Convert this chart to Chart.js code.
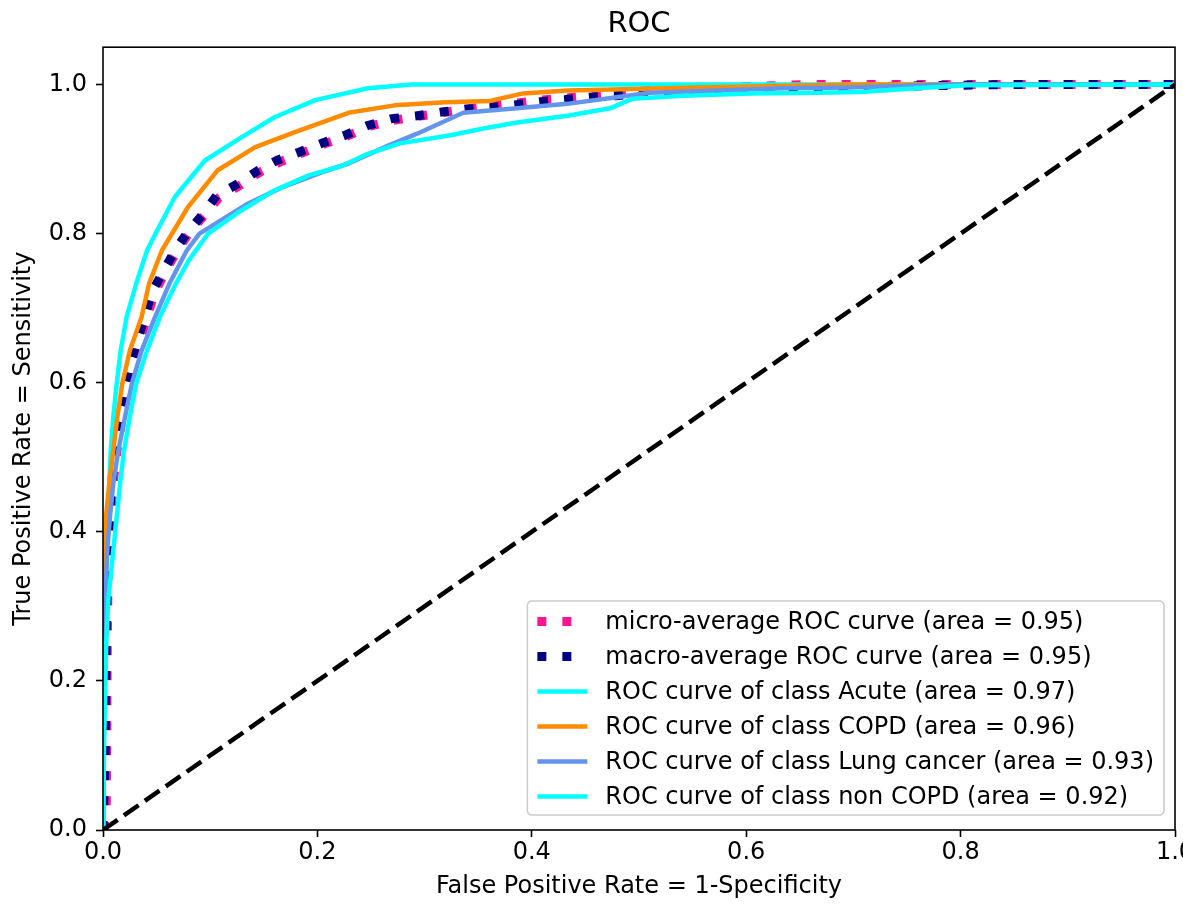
<!DOCTYPE html>
<html>
<head>
<meta charset="utf-8">
<script src="https://cdn.jsdelivr.net/npm/chart.js@4.4.1/dist/chart.umd.min.js"></script>
<style>
  html, body { margin: 0; padding: 0; background: #fff; }
  canvas { display: block; }
</style>
</head>
<body>
<canvas id="c" width="1183" height="904"></canvas>
<script>
// ---------- data ----------
const chartTitle = 'ROC';
const xAxisTitle = 'False Positive Rate = 1-Specificity';
const yAxisTitle = 'True Positive Rate = Sensitivity';
const xTickValues = [0, 0.2, 0.4, 0.6, 0.8, 1.0];
const yTickValues = [0, 0.2, 0.4, 0.6, 0.8, 1.0];

const seriesLabels = [
  'micro-average ROC curve (area = 0.95)',
  'macro-average ROC curve (area = 0.95)',
  'ROC curve of class Acute (area = 0.97)',
  'ROC curve of class COPD (area = 0.96)',
  'ROC curve of class Lung cancer (area = 0.93)',
  'ROC curve of class non COPD (area = 0.92)'
];

const microX = [0, 0.003, 0.004, 0.005, 0.007, 0.0095, 0.013, 0.018, 0.023, 0.028, 0.034, 0.041, 0.048, 0.057, 0.069, 0.08, 0.094, 0.108, 0.128, 0.147, 0.165, 0.182, 0.206, 0.228, 0.249, 0.271, 0.293, 0.316, 0.339, 0.361, 0.386, 0.408, 0.433, 0.454, 0.479, 0.502, 0.526, 0.572, 0.619, 0.66, 0.75, 1.0];
const microY = [0, 0.02, 0.25, 0.375, 0.42, 0.465, 0.509, 0.554, 0.59, 0.621, 0.653, 0.688, 0.72, 0.746, 0.777, 0.80, 0.824, 0.848, 0.865, 0.883, 0.896, 0.906, 0.92, 0.931, 0.944, 0.952, 0.957, 0.962, 0.967, 0.971, 0.975, 0.979, 0.982, 0.985, 0.988, 0.991, 0.994, 0.996, 0.998, 1.0, 1.0, 1.0];

const macroX = [0, 0.002, 0.003, 0.004, 0.006, 0.008, 0.0112, 0.016, 0.0205, 0.025, 0.031, 0.039, 0.045, 0.055, 0.067, 0.078, 0.092, 0.106, 0.126, 0.145, 0.162, 0.179, 0.204, 0.226, 0.247, 0.269, 0.293, 0.316, 0.339, 0.361, 0.386, 0.408, 0.433, 0.454, 0.479, 0.502, 0.526, 0.572, 0.619, 0.666, 0.75, 0.85, 1.0];
const macroY = [0, 0.1, 0.25, 0.375, 0.42, 0.465, 0.509, 0.554, 0.59, 0.621, 0.653, 0.688, 0.72, 0.746, 0.777, 0.80, 0.824, 0.851, 0.867, 0.885, 0.898, 0.907, 0.921, 0.932, 0.945, 0.954, 0.958, 0.963, 0.967, 0.969, 0.973, 0.977, 0.980, 0.983, 0.985, 0.988, 0.992, 0.992, 0.992, 0.994, 0.998, 1.0, 1.0];

const acuteX = [0, 0.0005, 0.0012, 0.0028, 0.004, 0.0059, 0.0072, 0.0096, 0.0128, 0.0165, 0.022, 0.031, 0.041, 0.049, 0.067, 0.095, 0.129, 0.160, 0.198, 0.247, 0.288, 1.0];
const acuteY = [0, 0.12, 0.22, 0.375, 0.42, 0.465, 0.509, 0.554, 0.599, 0.643, 0.688, 0.733, 0.777, 0.80, 0.849, 0.898, 0.929, 0.956, 0.979, 0.995, 1.0, 1.0];

const copdX = [0, 0, 0.001, 0.0028, 0.0059, 0.0096, 0.0134, 0.018, 0.025, 0.036, 0.043, 0.0548, 0.079, 0.107, 0.142, 0.179, 0.229, 0.272, 0.319, 0.361, 0.392, 0.433, 0.557, 0.697, 0.79, 1.0];
const copdY = [0, 0.36, 0.375, 0.42, 0.465, 0.509, 0.554, 0.599, 0.643, 0.688, 0.733, 0.777, 0.835, 0.885, 0.916, 0.936, 0.962, 0.972, 0.976, 0.978, 0.988, 0.992, 0.996, 1.0, 1.0, 1.0];

const lungX = [0, 0.001, 0.002, 0.004, 0.0065, 0.0096, 0.0143, 0.0205, 0.027, 0.036, 0.0485, 0.062, 0.078, 0.09, 0.135, 0.167, 0.204, 0.229, 0.266, 0.293, 0.336, 0.386, 0.433, 0.479, 0.510, 0.573, 0.635, 0.697, 0.79, 1.0];
const lungY = [0, 0.15, 0.3, 0.375, 0.42, 0.465, 0.509, 0.554, 0.599, 0.643, 0.688, 0.733, 0.777, 0.80, 0.840, 0.862, 0.882, 0.894, 0.918, 0.934, 0.962, 0.968, 0.974, 0.983, 0.989, 0.992, 0.995, 0.996, 1.0, 1.0];

const nonCopdX = [0, 0.001, 0.003, 0.005, 0.0096, 0.0128, 0.016, 0.0196, 0.025, 0.031, 0.041, 0.053, 0.068, 0.08, 0.098, 0.129, 0.160, 0.192, 0.223, 0.247, 0.277, 0.324, 0.355, 0.386, 0.433, 0.473, 0.494, 0.541, 0.604, 0.666, 0.706, 0.759, 0.806, 1.0];
const nonCopdY = [0, 0.12, 0.25, 0.31, 0.375, 0.42, 0.465, 0.509, 0.554, 0.599, 0.643, 0.688, 0.733, 0.764, 0.80, 0.831, 0.858, 0.878, 0.891, 0.907, 0.921, 0.932, 0.941, 0.949, 0.958, 0.968, 0.981, 0.985, 0.988, 0.989, 0.99, 0.995, 0.999, 1.0];

const chanceX = [0, 1];
const chanceY = [0, 1];

// ---------- build ----------
const FONT = 'DejaVu Sans';
const pts = (xs, ys) => xs.map((x, i) => ({ x: x, y: ys[i] }));
const DOT = [9, 16];
const DASH = [17.8, 7.7];

function lineDs(label, xs, ys, color, width, dash, order) {
  return {
    label: label,
    data: pts(xs, ys),
    showLine: true,
    borderColor: color,
    backgroundColor: color,
    borderWidth: width,
    borderDash: dash || [],
    borderCapStyle: 'butt',
    borderJoinStyle: 'round',
    pointRadius: 0,
    pointHoverRadius: 0,
    tension: 0,
    fill: false,
    clip: 0,
    order: order
  };
}

const datasets = [
  lineDs(seriesLabels[0], microX, microY, '#ff1493', 9, DOT, 6),
  lineDs(seriesLabels[1], macroX, macroY, '#000080', 9, DOT, 5),
  lineDs(seriesLabels[2], acuteX, acuteY, '#00ffff', 4.5, null, 4),
  lineDs(seriesLabels[3], copdX, copdY, '#ff8c00', 4.5, null, 3),
  lineDs(seriesLabels[4], lungX, lungY, '#6495ed', 4.5, null, 2),
  lineDs(seriesLabels[5], nonCopdX, nonCopdY, '#00ffff', 4.5, null, 1),
  Object.assign(lineDs('', chanceX, chanceY, '#000000', 4.5, DASH, 0), { inLegend: false })
];

const framePlugin = {
  id: 'frameAndLegend',
  afterDraw(chart) {
    const ctx = chart.ctx;
    const a = chart.chartArea;
    // axes frame (all four spines)
    ctx.save();
    ctx.strokeStyle = '#000';
    ctx.lineWidth = 1.6;
    ctx.setLineDash([]);
    ctx.strokeRect(a.left, a.top, a.right - a.left, a.bottom - a.top);
    ctx.restore();

    // legend (lower right, inside axes)
    const items = chart.data.datasets.filter(d => d.inLegend !== false);
    ctx.save();
    ctx.font = '24px "' + FONT + '"';
    let maxW = 0;
    items.forEach(d => { maxW = Math.max(maxW, ctx.measureText(d.label).width); });
    const rowH = 35;
    const padL = 10, handleW = 50, gap = 18, padR = 10;
    const boxW = padL + handleW + gap + maxW + padR;
    const boxH = items.length * rowH + 4;
    const right = a.right - 11;
    const bottom = a.bottom - 15;
    const left = right - boxW;
    const top = bottom - boxH;
    const r = 5;
    ctx.beginPath();
    ctx.moveTo(left + r, top);
    ctx.lineTo(right - r, top);
    ctx.quadraticCurveTo(right, top, right, top + r);
    ctx.lineTo(right, bottom - r);
    ctx.quadraticCurveTo(right, bottom, right - r, bottom);
    ctx.lineTo(left + r, bottom);
    ctx.quadraticCurveTo(left, bottom, left, bottom - r);
    ctx.lineTo(left, top + r);
    ctx.quadraticCurveTo(left, top, left + r, top);
    ctx.closePath();
    ctx.fillStyle = 'rgba(255,255,255,0.8)';
    ctx.fill();
    ctx.strokeStyle = '#cccccc';
    ctx.lineWidth = 1.5;
    ctx.stroke();

    items.forEach((d, i) => {
      const cy = top + 3 + rowH / 2 + i * rowH;
      const x0 = left + padL;
      ctx.beginPath();
      ctx.setLineDash(d.borderDash || []);
      ctx.lineDashOffset = 0;
      ctx.lineCap = 'butt';
      ctx.strokeStyle = d.borderColor;
      ctx.lineWidth = d.borderWidth;
      ctx.moveTo(x0, cy);
      ctx.lineTo(x0 + handleW, cy);
      ctx.stroke();
      ctx.setLineDash([]);
      ctx.fillStyle = '#000';
      ctx.textBaseline = 'middle';
      ctx.textAlign = 'left';
      ctx.fillText(d.label, x0 + handleW + gap, cy + 1);
    });
    ctx.restore();
  }
};

const tickFont = { family: FONT, size: 24 };

new Chart(document.getElementById('c'), {
  type: 'scatter',
  data: { datasets: datasets },
  plugins: [framePlugin],
  options: {
    responsive: false,
    animation: false,
    devicePixelRatio: 1,
    layout: { padding: { left: 0, right: 8, top: 0, bottom: 0 } },
    plugins: {
      legend: { display: false },
      tooltip: { enabled: false },
      title: {
        display: true,
        fullSize: false,
        text: chartTitle,
        color: '#000',
        font: { family: FONT, size: 29, weight: 'normal' },
        padding: { top: 7, bottom: 5.4 }
      }
    },
    scales: {
      x: {
        type: 'linear',
        min: 0,
        max: 1,
        border: { display: false },
        grid: { drawOnChartArea: false, drawTicks: true, tickLength: 7, tickColor: '#000', tickWidth: 1.6 },
        afterBuildTicks: s => { s.ticks = xTickValues.map(v => ({ value: v })); },
        ticks: {
          color: '#000',
          font: tickFont,
          padding: 1,
          maxRotation: 0,
          autoSkip: false,
          callback: v => Number(v).toFixed(1)
        },
        title: {
          display: true,
          text: xAxisTitle,
          color: '#000',
          font: tickFont,
          padding: { top: 0, bottom: 3 }
        },
        afterFit: s => { s.height = 74; s.paddingLeft = 0; s.paddingRight = 0; }
      },
      y: {
        type: 'linear',
        min: 0,
        max: 1.05,
        border: { display: false },
        grid: { drawOnChartArea: false, drawTicks: true, tickLength: 7, tickColor: '#000', tickWidth: 1.6 },
        afterBuildTicks: s => { s.ticks = yTickValues.map(v => ({ value: v })); },
        ticks: {
          color: '#000',
          font: tickFont,
          padding: 9,
          autoSkip: false,
          callback: v => Number(v).toFixed(1)
        },
        title: {
          display: true,
          text: yAxisTitle,
          color: '#000',
          font: tickFont,
          padding: { top: 9, bottom: 0 }
        },
        afterFit: s => { s.width = 103; s.paddingTop = 0; s.paddingBottom = 0; }
      }
    }
  }
});
</script>
</body>
</html>
